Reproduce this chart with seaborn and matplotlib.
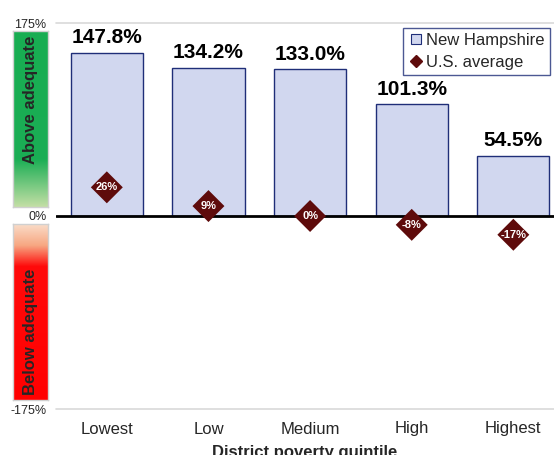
import numpy as np
import pandas as pd
import matplotlib
matplotlib.use("Agg")
import matplotlib.pyplot as plt
import seaborn as sns
from matplotlib.colors import LinearSegmentedColormap
from matplotlib.lines import Line2D

quintiles = ["Lowest", "Low", "Medium", "High", "Highest"]
nh_values = [147.8, 134.2, 133.0, 101.3, 54.5]
us_values = [26, 9, 0, -8, -17]
y_ticks = [-175, 0, 175]
y_tick_labels = ["-175%", "0%", "175%"]

BAR_FACE = "#D1D7EF"
BAR_EDGE = "#1F2E78"
DIAMOND = "#5E0B0B"

sns.set_style("white")
plt.rcParams["font.family"] = ["Liberation Sans", "DejaVu Sans"]

W, H = 554, 455
fig = plt.figure(figsize=(W / 100, H / 100), dpi=100)


def px_axes(x0, y0, x1, y1):
    return fig.add_axes([x0 / W, 1 - y1 / H, (x1 - x0) / W, (y1 - y0) / H])


ax = px_axes(56, 23, 554, 409)
df = pd.DataFrame({"quintile": quintiles, "nh": nh_values, "us": us_values})

sns.barplot(data=df, x="quintile", y="nh", ax=ax, color=BAR_FACE,
            edgecolor=BAR_EDGE, linewidth=1.0, width=0.71, saturation=1, zorder=2)
sns.scatterplot(data=df, x="quintile", y="us", ax=ax, marker="D", s=265,
                color=DIAMOND, edgecolor="none", zorder=4, legend=False)

for i, v in enumerate(nh_values):
    ax.annotate(f"{v:.1f}%", (i, v), xytext=(0, 4), textcoords="offset points",
                ha="center", va="bottom", fontsize=15, fontweight="bold", color="black")
for i, v in enumerate(us_values):
    ax.text(i, v, f"{v}%", ha="center", va="center", fontsize=8,
            fontweight="bold", color="white", zorder=5)

ax.set_xlim(-0.5, 4.40)
ax.set_ylim(-175, 175)
ax.axhline(0, color="black", lw=2, zorder=3)
ax.axhline(175, color="#D9D9D9", lw=1.2, zorder=1, clip_on=False)
ax.axhline(-175, color="#D9D9D9", lw=1.2, zorder=1, clip_on=False)
for s in ax.spines.values():
    s.set_visible(False)
ax.set_yticks(y_ticks)
ax.set_yticklabels(y_tick_labels)
ax.tick_params(axis="y", length=0, pad=7, labelsize=9)
ax.tick_params(axis="x", length=0, pad=9, labelsize=12)
ax.set_xlabel("District poverty quintile", fontsize=12, fontweight="bold", labelpad=6)
ax.set_ylabel("")

handles = [
    Line2D([], [], marker="s", linestyle="none", markersize=7,
           markerfacecolor=BAR_FACE, markeredgecolor=BAR_EDGE, markeredgewidth=0.8),
    Line2D([], [], marker="D", linestyle="none", markersize=6,
           markerfacecolor=DIAMOND, markeredgecolor=DIAMOND),
]
leg = fig.legend(handles, ["New Hampshire", "U.S. average"], loc="upper right",
                 bbox_to_anchor=(550 / W, 1 - 28 / H), fontsize=12, frameon=True,
                 fancybox=False, borderpad=0.3, handletextpad=0.1,
                 labelspacing=0.4, handlelength=1.0, borderaxespad=0)
leg.get_frame().set_edgecolor(BAR_EDGE)
leg.get_frame().set_linewidth(1.0)

# gradient side bands
green_cmap = LinearSegmentedColormap.from_list(
    "g", [(0, "#18AD52"), (0.73, "#1BAE55"), (1, "#C3DFA5")])
red_cmap = LinearSegmentedColormap.from_list(
    "r", [(0, "#FADCC8"), (0.12, "#F7A782"), (0.24, "#FF0A0A"), (1, "#FF0000")])
grad = np.linspace(0, 1, 256).reshape(-1, 1)

gax = px_axes(13, 31, 48, 207)
gax.imshow(grad, cmap=green_cmap, aspect="auto", extent=(0, 1, 1, 0))
gax.text(0.5, 0.61, "Above adequate", rotation=90, ha="center", va="center",
         fontsize=12, fontweight="bold", transform=gax.transAxes)

rax = px_axes(13, 224, 48, 400)
rax.imshow(grad, cmap=red_cmap, aspect="auto", extent=(0, 1, 1, 0))
rax.text(0.5, 0.39, "Below adequate", rotation=90, ha="center", va="center",
         fontsize=12, fontweight="bold", transform=rax.transAxes)

for a in (gax, rax):
    a.set_xticks([])
    a.set_yticks([])
    for s in a.spines.values():
        s.set_edgecolor("#D0D0D0")
        s.set_linewidth(1)

fig.savefig("out.png", dpi=100)
